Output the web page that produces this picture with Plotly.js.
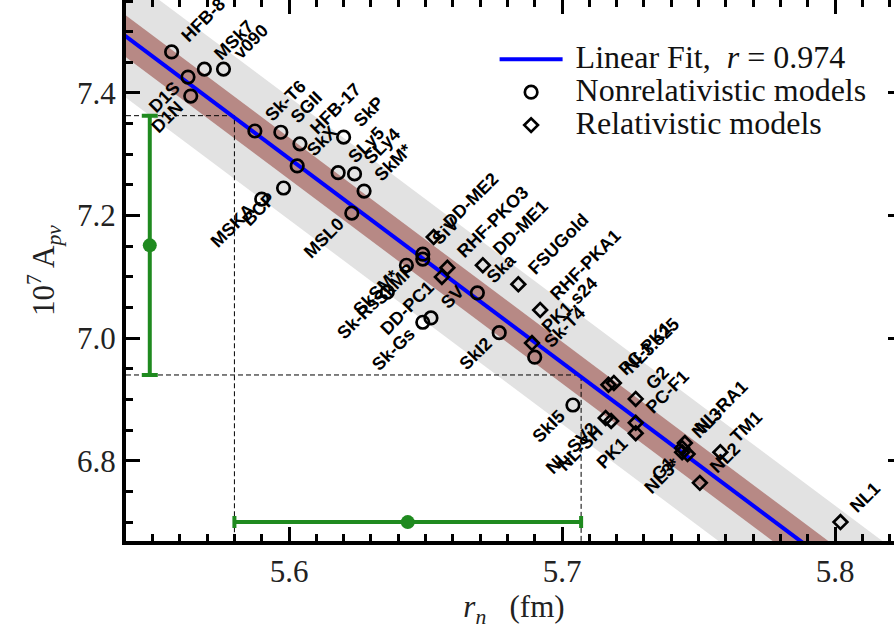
<!DOCTYPE html>
<html><head><meta charset="utf-8">
<script src="https://cdn.plot.ly/plotly-3.0.1.min.js"></script>
<style>
html,body{margin:0;padding:0;overflow:hidden;background:#fff;width:894px;height:630px;position:relative}
#chart{position:absolute;left:0;top:-4px;width:906px;height:634px}
</style>
</head><body><div id="chart"></div>
<script>
// ---- data ----
const nonrelNames = ["HFB-8","D1S","MSk7","v090","D1N","Sk-T6","SGII","HFB-17","SkX","SkP","SLy5","SLy4","SkM*","MSKA","BCP","MSL0","SiV","SkMP","SkSM*","Sk-Rs","SV","Sk-Gs","Ska","SkI2","Sk-T4","SkI5"];
const nonrelRn    = [5.557,5.563,5.569,5.576,5.564,5.5875,5.597,5.604,5.603,5.620,5.618,5.624,5.6275,5.590,5.598,5.623,5.649,5.649,5.643,5.636,5.652,5.649,5.669,5.677,5.690,5.704];
const nonrelApv   = [7.467,7.426,7.439,7.439,7.395,7.338,7.336,7.317,7.281,7.328,7.270,7.268,7.240,7.227,7.245,7.204,7.137,7.129,7.119,7.075,7.033,7.026,7.074,7.009,6.969,6.891];

const relNames = ["DD-ME2","RHF-PKO3","DD-PC1","DD-ME1","FSUGold","RHF-PKA1","PK1.s24","PC-PK1","NL3.s25","G2","PC-F1","PK1","NL-SV2","NL-SH","NL-RA1","NL3","G1","NL3*","NL2","TM1","NL1"];
const relRn    = [5.653,5.658,5.656,5.671,5.684,5.692,5.689,5.717,5.719,5.727,5.727,5.727,5.716,5.718,5.745,5.744,5.744,5.746,5.7505,5.758,5.802];
const relApv   = [7.165,7.115,7.100,7.119,7.088,7.046,6.992,6.924,6.927,6.901,6.862,6.845,6.870,6.865,6.829,6.821,6.814,6.811,6.764,6.814,6.700];

// linear fit and band half-widths
const fitSlope = -3.332;
const fitIntercept = 25.9526;
const fitR = "0.974";
const bandInner = 0.034;
const bandOuter = 0.100;

// hypothetical measurement (green error bars)
const measApv = 7.1515, measApvErr = 0.2115;
const measRn = 5.6435, measRnErr = 0.0635;
const measApvBarAt = 5.549;   // x where vertical bar is drawn
const measRnBarAt = 6.700;    // y where horizontal bar is drawn

// axis ticks
const xTickVals = [5.6, 5.7, 5.8];
const yTickVals = [6.8, 7.0, 7.2, 7.4];

// labels placed to the lower-left of their marker (others go upper-right)
const leftLabels = new Set(["D1S","D1N","MSKA","BCP","MSL0","SkSM*","SkMP","Sk-Rs","DD-PC1","Sk-Gs","SkI2","SkI5","NL-SV2","NL-SH","PK1","G1","NL3*"]);

// ---- chart ----
const xRange = [5.54029, 5.82454];
const yRange = [6.66917, 7.5517];
const fx = x => fitIntercept + fitSlope * x;
const bx0 = 5.50, bx1 = 5.86;
function band(w, color) {
  return {x:[bx0,bx1,bx1,bx0,bx0], y:[fx(bx0)+w,fx(bx1)+w,fx(bx1)-w,fx(bx0)-w,fx(bx0)+w],
    type:'scatter', mode:'lines', fill:'toself', fillcolor:color, line:{width:0}, hoverinfo:'skip', showlegend:false};
}
const green = '#1f8a1f';
const yHi = measApv + measApvErr, yLo = measApv - measApvErr;
const xLo = measRn - measRnErr, xHi = measRn + measRnErr;
const dashStyle = {color:'#000', width:1, dash:'5px,3px'};
const NB = '\u00a0';

const traces = [
  band(bandOuter, '#e2e2e2'),
  band(bandInner, '#b78985'),
  {x:[xRange[0], xLo, xLo], y:[yHi, yHi, yRange[0]], type:'scatter', mode:'lines', line:dashStyle, showlegend:false, hoverinfo:'skip'},
  {x:[xRange[0], xHi, xHi], y:[yLo, yLo, yRange[0]], type:'scatter', mode:'lines', line:dashStyle, showlegend:false, hoverinfo:'skip'},
  {x:[bx0, bx1], y:[fx(bx0), fx(bx1)], type:'scatter', mode:'lines', line:{color:'#0000ff', width:4},
   name:'<span style="font-size:32px">' + NB + 'Linear Fit,  <i>r</i> = ' + fitR + '</span>'},
  {x:nonrelRn, y:nonrelApv, type:'scatter', mode:'markers', text:nonrelNames,
   marker:{symbol:'circle-open', size:12.5, color:'#000', line:{width:2.7, color:'#000'}},
   name:'<span style="font-size:32px">' + NB + 'Nonrelativistic models</span>'},
  {x:relRn, y:relApv, type:'scatter', mode:'markers', text:relNames,
   marker:{symbol:'diamond-open', size:10.5, color:'#000', line:{width:2.7, color:'#000'}},
   name:'<span style="font-size:32px">' + NB + 'Relativistic models</span>'},
  {x:[measApvBarAt], y:[measApv], type:'scatter', mode:'markers', showlegend:false,
   marker:{color:green, size:14}, error_y:{type:'data', array:[measApvErr], color:green, thickness:4, width:8}},
  {x:[measRn], y:[measRnBarAt], type:'scatter', mode:'markers', showlegend:false,
   marker:{color:green, size:14}, error_x:{type:'data', array:[measRnErr], color:green, thickness:4, width:6}}
];

const annotations = [];
function addLabels(names, xs, ys) {
  names.forEach((n, i) => {
    const left = leftLabels.has(n);
    annotations.push({x:xs[i], y:ys[i], xref:'x', yref:'y', text:n, showarrow:false, textangle:-45,
      xanchor: left ? 'right' : 'left', yanchor: left ? 'top' : 'bottom',
      xshift: left ? -1 : 3, yshift: left ? 2 : 3,
      font:{family:'Liberation Sans, Arial, sans-serif', size:18, color:'#000', weight:'bold'}});
  });
}
addLabels(nonrelNames, nonrelRn, nonrelApv);
addLabels(relNames, relRn, relApv);

const tickFont = {family:'Liberation Serif, Times New Roman, serif', size:31, color:'#222'};
const layout = {
  width:906, height:634,
  margin:{l:126, r:4, t:4, b:89},
  paper_bgcolor:'#fff', plot_bgcolor:'#fff',
  showlegend:true,
  legend:{x:0.475, y:0.93, xanchor:'left', yanchor:'top', bgcolor:'rgba(0,0,0,0)',
    font:{family:'Liberation Serif, Times New Roman, serif', size:23, color:'#111'}, itemwidth:63, tracegroupgap:0},
  xaxis:{range:xRange, tickvals:xTickVals, ticktext:xTickVals.map(v=>v.toFixed(1)),
    showgrid:false, zeroline:false, showline:true, linewidth:4, linecolor:'#000', mirror:'allticks',
    ticks:'inside', ticklen:14, tickwidth:3, tickcolor:'#000', tickfont:tickFont,
    minor:{dtick:0.01, tick0:5.5, ticks:'inside', ticklen:7, tickwidth:3, tickcolor:'#000', showgrid:false},
    title:{text:'<i>r</i><sub><i>n</i></sub>   (fm)', font:{family:'Liberation Serif, Times New Roman, serif', size:31, color:'#222'}, standoff:4}},
  yaxis:{range:yRange, tickvals:yTickVals, ticktext:yTickVals.map(v=>v.toFixed(1)),
    showgrid:false, zeroline:false, showline:true, linewidth:4, linecolor:'#000', mirror:'allticks',
    ticks:'inside', ticklen:14, tickwidth:3, tickcolor:'#000', tickfont:tickFont,
    minor:{dtick:0.05, tick0:6.6, ticks:'inside', ticklen:7, tickwidth:3, tickcolor:'#000', showgrid:false},
    title:{text:'10<sup>7</sup> A<sub><i>pv</i></sub>', font:{family:'Liberation Serif, Times New Roman, serif', size:31, color:'#222'}, standoff:14}},
  annotations: annotations
};
Plotly.newPlot('chart', traces, layout, {displayModeBar:false, staticPlot:true});
</script>
</body></html>
